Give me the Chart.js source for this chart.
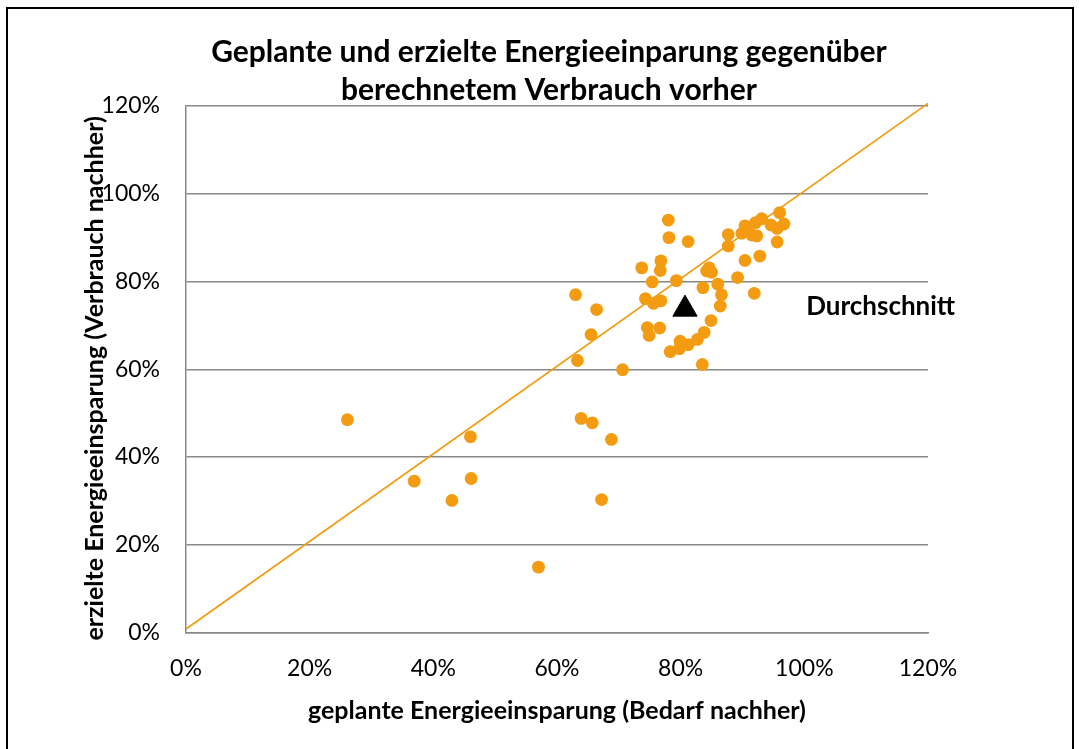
<!DOCTYPE html>
<html><head><meta charset="utf-8">
<script src="https://cdn.jsdelivr.net/npm/chart.js@4"></script>
<style>html,body{margin:0;padding:0;background:#fff}#wrap{width:1079px;height:749px;position:relative}</style>
</head><body><div id="wrap"><canvas id="c" width="1079" height="749"></canvas></div>
<script>
const plannedSaving = [26.1, 36.9, 43.0, 46.0, 46.1, 57.0, 63.0, 63.3, 63.9, 65.7, 65.5, 66.4, 67.2, 68.8, 70.6, 73.7, 74.3, 74.6, 74.9, 75.4, 75.6, 76.6, 76.8, 76.7, 76.8, 78.0, 78.1, 78.3, 79.3, 79.8, 79.9, 81.2, 81.2, 82.7, 83.5, 83.6, 83.8, 84.6, 85.0, 84.2, 84.9, 86.0, 86.4, 86.6, 87.7, 87.7, 89.2, 89.9, 90.4, 90.4, 91.5, 91.9, 92.1, 92.3, 92.8, 93.1, 94.6, 95.6, 95.6, 96.0, 96.7];
const achievedSaving = [48.5, 34.5, 30.1, 44.6, 35.1, 14.9, 77.0, 62.0, 48.8, 47.8, 67.9, 73.6, 30.3, 44.0, 59.9, 83.1, 76.1, 69.5, 67.7, 79.9, 75.0, 69.4, 75.6, 82.5, 84.7, 94.0, 90.0, 64.0, 80.2, 64.7, 66.4, 89.1, 65.6, 66.8, 61.1, 78.6, 68.4, 83.1, 82.1, 82.4, 71.1, 79.4, 74.4, 77.0, 90.7, 88.1, 80.9, 91.0, 92.7, 84.8, 90.6, 77.3, 93.4, 90.4, 85.8, 94.3, 92.9, 89.0, 92.1, 95.7, 93.1];
const avgPlanned = [80.7];
const avgAchieved = [73.7];
const refLineX = [0, 120];
const refLineY = [0.8, 120.6];
const titleLines = ['Geplante und erzielte Energieeinparung gegenüber', 'berechnetem Verbrauch vorher'];
const xTitle = 'geplante Energieeinsparung (Bedarf nachher)';
const yTitle = 'erzielte Energieeinsparung (Verbrauch nachher)   ';
const avgLabel = 'Durchschnitt';

const ORANGE = '#F39C12';
const GRID = '#888888';
const FONT = 'Lato, "Open Sans", sans-serif';

const framePlugin = {
  id: 'frame',
  beforeDraw(chart) {
    const ctx = chart.ctx;
    ctx.save();
    ctx.fillStyle = '#fff';
    ctx.fillRect(0, 0, chart.width, chart.height);
    ctx.strokeStyle = '#000';
    ctx.lineWidth = 2;
    ctx.strokeRect(7, 8, 1066, 780);
    ctx.restore();
  },
  afterDraw(chart) {
    const ctx = chart.ctx;
    ctx.save();
    ctx.fillStyle = '#000';
    ctx.textAlign = 'center';
    ctx.textBaseline = 'middle';
    ctx.font = 'bold 30px ' + FONT;
    ctx.fillText(titleLines[0], 549, 52);
    ctx.fillText(titleLines[1], 549, 90);
    const o = chart.options.plugins.frame;
    ctx.textAlign = 'left';
    ctx.font = 'bold 26px ' + FONT;
    ctx.fillText(avgLabel, chart.scales.x.getPixelForValue(o.labelX), chart.scales.y.getPixelForValue(o.labelY));
    ctx.restore();
  }
};

new Chart(document.getElementById('c'), {
  type: 'scatter',
  data: {
    datasets: [
      {
        type: 'scatter',
        data: plannedSaving.map((x, i) => ({x: x, y: achievedSaving[i]})),
        backgroundColor: ORANGE,
        borderWidth: 0,
        pointRadius: 6.4,
        pointHoverRadius: 6.4,
        order: 2
      },
      {
        type: 'line',
        data: refLineX.map((x, i) => ({x: x, y: refLineY[i]})),
        borderColor: ORANGE,
        borderWidth: 1.8,
        pointRadius: 0,
        fill: false,
        tension: 0,
        clip: false,
        order: 3
      },
      {
        type: 'scatter',
        data: avgPlanned.map((x, i) => ({x: x, y: avgAchieved[i]})),
        pointStyle: 'triangle',
        backgroundColor: '#000',
        borderColor: '#000',
        borderWidth: 1,
        pointRadius: 14,
        pointHoverRadius: 14,
        order: 1
      }
    ]
  },
  options: {
    responsive: false,
    animation: false,
    devicePixelRatio: 1,
    layout: {padding: {top: 106, right: 151, bottom: 0, left: 0}},
    plugins: {
      legend: {display: false},
      tooltip: {enabled: false},
      title: {display: false},
      frame: {labelX: 100.3, labelY: 74.3}
    },
    scales: {
      x: {
        type: 'linear', min: 0, max: 120,
        ticks: {stepSize: 20, callback: v => v + '%', color: '#000', font: {family: FONT, size: 23}, padding: 22, maxRotation: 0},
        grid: {display: false, drawTicks: false},
        border: {display: true, color: GRID, width: 1.5},
        title: {display: true, text: xTitle, color: '#000', font: {family: FONT, size: 25, weight: 'bold'}, padding: {top: 0, bottom: 23}},
        afterFit(s) { s.height = 116.5; }
      },
      y: {
        type: 'linear', min: 0, max: 120,
        ticks: {stepSize: 20, callback: v => v + '%', color: '#000', font: {family: FONT, size: 23}, padding: 26},
        grid: {color: GRID, lineWidth: 1.5, drawTicks: false},
        border: {display: true, color: GRID, width: 1.5},
        title: {display: true, text: yTitle, color: '#000', font: {family: FONT, size: 25, weight: 'bold'}, padding: {top: 80, bottom: 0}},
        afterFit(s) { s.width = 186; }
      }
    }
  },
  plugins: [framePlugin]
});
</script>
</body></html>
